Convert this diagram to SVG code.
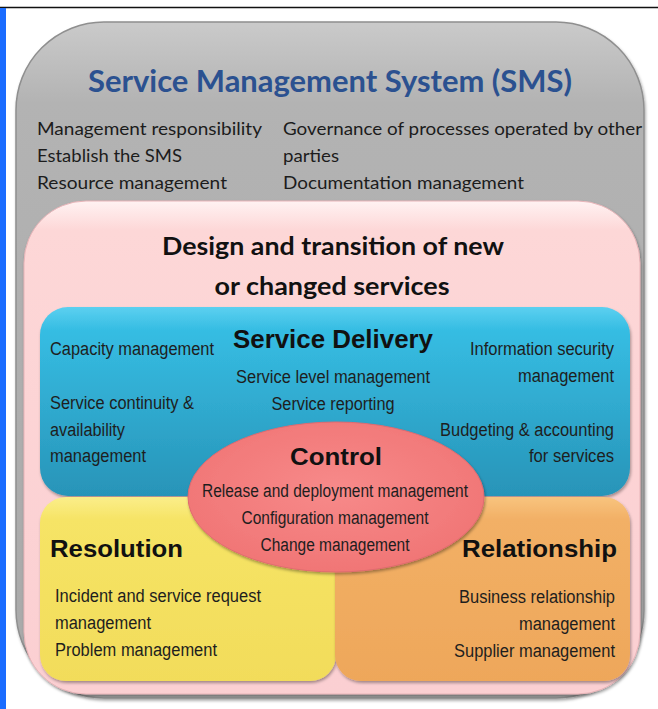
<svg xmlns="http://www.w3.org/2000/svg" width="658" height="709" viewBox="0 0 658 709">
<defs>
<linearGradient id="gGray" x1="0" y1="0" x2="0" y2="1">
<stop offset="0" stop-color="#cacaca"/><stop offset="0.12" stop-color="#b3b3b3"/><stop offset="1" stop-color="#a9a9a9"/>
</linearGradient>
<linearGradient id="gPink" x1="0" y1="0" x2="0" y2="1">
<stop offset="0" stop-color="#fff2f2"/><stop offset="0.06" stop-color="#fdd7d7"/><stop offset="1" stop-color="#fbcfd2"/>
</linearGradient>
<linearGradient id="gBlue" x1="0" y1="0" x2="0" y2="1">
<stop offset="0" stop-color="#5cd0f0"/><stop offset="0.12" stop-color="#36bde3"/><stop offset="1" stop-color="#2894b8"/>
</linearGradient>
<linearGradient id="gYellow" x1="0" y1="0" x2="0" y2="1">
<stop offset="0" stop-color="#fbee8a"/><stop offset="0.12" stop-color="#f6e466"/><stop offset="1" stop-color="#f2dc5a"/>
</linearGradient>
<linearGradient id="gOrange" x1="0" y1="0" x2="0" y2="1">
<stop offset="0" stop-color="#f8c47e"/><stop offset="0.12" stop-color="#f2b066"/><stop offset="1" stop-color="#eea75a"/>
</linearGradient>
<radialGradient id="gRed" cx="0.5" cy="0.45" r="0.6">
<stop offset="0" stop-color="#f78a8a"/><stop offset="1" stop-color="#f07474"/>
</radialGradient>
<filter id="sh" x="-5%" y="-5%" width="110%" height="110%">
<feDropShadow dx="1" dy="2" stdDeviation="1.5" flood-color="#000" flood-opacity="0.35"/>
</filter>
</defs>
<style>
.cal{font-family:Lato,"Open Sans","Liberation Sans",sans-serif;fill:#1c1c1c}
.nar{font-family:"Liberation Sans",Arial,sans-serif;fill:#1e1e1e}
.hd{font-family:"Liberation Sans",Arial,sans-serif;font-weight:bold;fill:#111}
.s18{font-size:18px}
.mid{text-anchor:middle}
.end{text-anchor:end}
</style>
<rect x="0" y="0" width="658" height="709" fill="#fff"/>
<line x1="0" y1="7.5" x2="658" y2="7.5" stroke="#111" stroke-width="1.5"/>
<rect x="0" y="8" width="6" height="701" fill="#1a6cff"/>

<g id="sms">
<rect x="16" y="22" width="628" height="676" rx="88" ry="88" fill="url(#gGray)" stroke="#8f8f8f" stroke-width="1.5" filter="url(#sh)"/>
<text class="cal" x="330" y="92" text-anchor="middle" font-size="30" font-weight="bold" style="fill:#2b5190" textLength="484" lengthAdjust="spacingAndGlyphs">Service Management System (SMS)</text>
<text class="cal s18" x="37" y="135" textLength="225" lengthAdjust="spacingAndGlyphs">Management responsibility</text>
<text class="cal s18" x="37" y="162" textLength="145" lengthAdjust="spacingAndGlyphs">Establish the SMS</text>
<text class="cal s18" x="37" y="189" textLength="190" lengthAdjust="spacingAndGlyphs">Resource management</text>
<text class="cal s18" x="283" y="135" textLength="359" lengthAdjust="spacingAndGlyphs">Governance of processes operated by other</text>
<text class="cal s18" x="283" y="162" textLength="56" lengthAdjust="spacingAndGlyphs">parties</text>
<text class="cal s18" x="283" y="189" textLength="241" lengthAdjust="spacingAndGlyphs">Documentation management</text>
</g>

<g id="design">
<rect x="24" y="201" width="616" height="493" rx="62" ry="62" fill="url(#gPink)" stroke="#e8b4b8" stroke-width="1" filter="url(#sh)"/>
<text class="cal mid" x="333" y="255" font-size="25" font-weight="bold" style="fill:#111" textLength="342" lengthAdjust="spacingAndGlyphs">Design and transition of new</text>
<text class="cal mid" x="332" y="295" font-size="25" font-weight="bold" style="fill:#111" textLength="235" lengthAdjust="spacingAndGlyphs">or changed services</text>
</g>

<g id="delivery">
<rect x="40" y="307" width="590" height="189" rx="28" ry="28" fill="url(#gBlue)" filter="url(#sh)"/>
<text class="hd mid" x="333" y="348" font-size="26" textLength="200" lengthAdjust="spacingAndGlyphs">Service Delivery</text>
<text class="nar s18" x="50" y="355" textLength="164" lengthAdjust="spacingAndGlyphs">Capacity management</text>
<text class="nar s18 mid" x="333" y="383" textLength="194" lengthAdjust="spacingAndGlyphs">Service level management</text>
<text class="nar s18 mid" x="333" y="410" textLength="123" lengthAdjust="spacingAndGlyphs">Service reporting</text>
<text class="nar s18 end" x="614" y="355" textLength="144" lengthAdjust="spacingAndGlyphs">Information security</text>
<text class="nar s18 end" x="614" y="382" textLength="96" lengthAdjust="spacingAndGlyphs">management</text>
<text class="nar s18" x="50" y="409" textLength="144" lengthAdjust="spacingAndGlyphs">Service continuity &amp;</text>
<text class="nar s18" x="50" y="436" textLength="75" lengthAdjust="spacingAndGlyphs">availability</text>
<text class="nar s18" x="50" y="462" textLength="96" lengthAdjust="spacingAndGlyphs">management</text>
<text class="nar s18 end" x="614" y="436" textLength="174" lengthAdjust="spacingAndGlyphs">Budgeting &amp; accounting</text>
<text class="nar s18 end" x="614" y="462" textLength="85" lengthAdjust="spacingAndGlyphs">for services</text>
</g>

<g id="resolution">
<rect x="40" y="497" width="296" height="184" rx="26" ry="26" fill="url(#gYellow)" filter="url(#sh)"/>
<text class="hd" x="50" y="557" font-size="24" textLength="133" lengthAdjust="spacingAndGlyphs">Resolution</text>
<text class="nar s18" x="55" y="602" textLength="206" lengthAdjust="spacingAndGlyphs">Incident and service request</text>
<text class="nar s18" x="55" y="629" textLength="96" lengthAdjust="spacingAndGlyphs">management</text>
<text class="nar s18" x="55" y="656" textLength="162" lengthAdjust="spacingAndGlyphs">Problem management</text>
</g>

<g id="relationship">
<rect x="335" y="497" width="295" height="184" rx="26" ry="26" fill="url(#gOrange)" filter="url(#sh)"/>
<text class="hd end" x="617" y="557" font-size="24" textLength="155" lengthAdjust="spacingAndGlyphs">Relationship</text>
<text class="nar s18 end" x="615" y="603" textLength="156" lengthAdjust="spacingAndGlyphs">Business relationship</text>
<text class="nar s18 end" x="615" y="630" textLength="96" lengthAdjust="spacingAndGlyphs">management</text>
<text class="nar s18 end" x="615" y="657" textLength="161" lengthAdjust="spacingAndGlyphs">Supplier management</text>
</g>

<g id="control">
<ellipse cx="336" cy="497" rx="148" ry="75" fill="url(#gRed)" stroke="#e06a70" stroke-width="1" filter="url(#sh)"/>
<text class="hd mid" x="336" y="465" font-size="24" textLength="92" lengthAdjust="spacingAndGlyphs">Control</text>
<text class="nar s18 mid" x="335" y="497" textLength="266" lengthAdjust="spacingAndGlyphs">Release and deployment management</text>
<text class="nar s18 mid" x="335" y="524" textLength="187" lengthAdjust="spacingAndGlyphs">Configuration management</text>
<text class="nar s18 mid" x="335" y="551" textLength="149" lengthAdjust="spacingAndGlyphs">Change management</text>
</g>

<g id="connectors"/>
</svg>
